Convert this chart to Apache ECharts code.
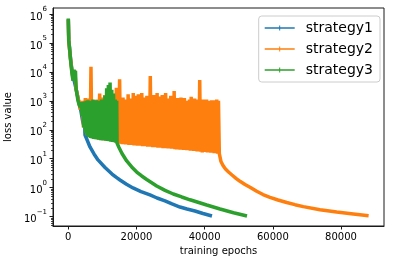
<!DOCTYPE html>
<html><head><meta charset="utf-8">
<script src="https://cdn.jsdelivr.net/npm/echarts@6/dist/echarts.min.js"></script>
<style>html,body{margin:0;padding:0;background:#fff}#c{width:394px;height:264px}</style>
</head><body><div id="c"></div>
<script>
const seriesNames = ['strategy1', 'strategy2', 'strategy3'];
const seriesColors = ['#1f77b4', '#ff7f0e', '#2ca02c'];

// [training epoch, loss value]
const strategy1Data = [
  [0,650000],[150,130000],[400,60000],[800,20000],[1300,8000],[1900,4000],[2500,2000],[3100,900],
  [3700,450],[4200,200],[4500,150],[4700,700],[4900,66],[5400,48],[5630,41],[6360,25.5],[7540,14.6],
  [8710,9.1],[10770,5.0],[12820,2.97],[13990,2.31],[15160,1.85],[17070,1.31],[18980,0.98],[21330,0.73],
  [23960,0.56],[26020,0.44],[28360,0.35],[30420,0.274],[32760,0.215],[34820,0.184],
  [37160,0.157],[39510,0.128],[42150,0.105]
];

const strategy2Data = [
  [0,650000],[120,120000],[500,40000],[1000,12000],[1500,5000],[1900,11000],[2300,2500],[2700,1500],[3100,900],
  [3500,500],[4000,1000],[4500,120],[5000,1250],[5500,65],[6000,1200],[6400,55],[6650,15000],[6900,52],
  [7400,1000],[7900,48],[8400,1100],[8900,46],[9200,1800],[9500,45],[10000,1300],[10400,44],[10700,1600],
  [11000,43],[11500,1200],[12000,41],[12500,1300],[13000,39],[13500,1400],[13900,37],[14100,2800],
  [14300,34],[14550,1200],[14800,33],[15050,5600],[15300,33],[15550,1000],[15800,32],[16050,1300],
  [16300,32],[16550,900],[16800,31],[17050,1100],[17300,31],[17550,1700],[17800,30],[18050,1000],
  [18300,30],[18550,1200],[18800,30],[19050,1850],[19300,29],[19550,950],[19800,29],[20050,1500],
  [20300,28],[20550,1700],[20800,28],[21050,1100],[21300,28],[21550,1850],[21800,27],[22050,1000],
  [22300,27],[22550,1300],[22800,27],[23050,1500],[23300,26],[23550,1100],[23800,26],[24050,7200],
  [24300,26],[24550,1000],[24800,25],[25050,1600],[25300,25],[25550,1300],[25800,25],[26050,1850],
  [26300,24],[26550,1100],[26800,24],[27050,1400],[27300,24],[27550,1600],[27800,23],[28050,900],
  [28300,23],[28550,1850],[28800,23],[29050,1200],[29300,22.5],[29550,1000],[29800,22.5],[30050,1500],
  [30300,22],[30550,1300],[30800,22],[31050,2200],[31300,21.5],[31550,1100],[31800,21],[32050,1250],
  [32300,21],[32550,950],[32800,20.5],[33050,1300],[33300,20.5],[33550,1050],[33800,20],[34050,1250],
  [34300,20],[34550,900],[34800,19.5],[35050,1000],[35300,19.5],[35550,1100],[35800,19],[36050,1370],
  [36300,19],[36550,950],[36800,18.5],[37050,1200],[37300,18.5],[37550,1000],[37800,18],[38050,1100],
  [38300,18],[38550,5200],[38800,17.5],[39050,1000],[39300,16.5],[39550,1100],[39800,17],[40050,850],
  [40300,17],[40550,1100],[40800,16.5],[41050,950],[41300,16.5],[41550,1000],[41800,16],[42050,1050],
  [42300,16],[42550,900],[42800,15.5],[43050,1050],[43300,15.5],[43550,1100],[43800,15],[44050,1000],
  [44300,15],[44790,8.0],[45380,5.85],[46110,4.43],[47000,3.48],[48020,2.75],[49190,2.11],[50370,1.66],
  [51840,1.29],[53300,1.03],[55270,0.75],[57110,0.58],[59160,0.466],[61510,0.376],[64070,0.308],
  [66500,0.259],[68940,0.222],[73840,0.174],[78730,0.144],[83600,0.124],[88100,0.108]
];

const strategy3Data = [
  [0,700000],[120,120000],[350,70000],[600,30000],[850,16000],[1100,8000],[1400,5000],[1700,12000],
  [1900,7000],[2100,11000],[2300,2500],[2600,1500],[2850,1000],[3150,750],[3450,600],
  [3750,900],[4000,300],[4250,800],[4500,120],[4750,950],[5000,78],[5250,1000],[5500,63],
  [5750,1050],[6000,56],[6250,900],[6500,52],[6750,1000],[7000,50],[7250,1100],[7500,48],
  [7750,950],[8000,47],[8250,1050],[8500,46],[8750,1000],[9000,45],[9250,900],[9500,44],
  [9750,1100],[10000,43],[10250,1000],[10500,43],[10750,1500],[11000,42],[11250,2700],[11500,41],
  [11750,3500],[12000,40],[12250,4300],[12500,39],[12750,2400],[13000,38],[13250,1800],[13500,37],
  [13750,1100],[14000,36],[14200,1000],[14300,35],
  [14870,24.5],[15750,15.2],[17130,8.36],[18600,5.19],[20070,3.48],[21530,2.54],[23000,1.92],
  [25930,1.15],[28370,0.81],[30800,0.605],[33270,0.478],[35700,0.382],[40600,0.252],
  [44500,0.184],[48460,0.136],[52420,0.105]
];

const xTicks = [0, 20000, 40000, 60000, 80000];
const yTicks = [0.1, 1, 10, 100, 1000, 10000, 100000, 1000000];
const yMinorTicks = [];
for (let e = -2; e <= 6; e++) for (let m = 2; m <= 9; m++) yMinorTicks.push(m * Math.pow(10, e));

const X_MIN = -4490, X_MAX = 92610;
const Y_MIN = 0.0475, Y_MAX = 1.61e6;
const FONT = 'DejaVu Sans';
const AX = '#1a1a1a';

const chart = echarts.init(document.getElementById('c'), null, {renderer: 'canvas'});
const allData = [strategy1Data, strategy2Data, strategy3Data];
const legendIcon = 'path://M0,1.75h30v1.5h-30z M14.5,0h1v5h-1z';

chart.setOption({
  animation: false,
  textStyle: {fontFamily: FONT},
  grid: {left: 53, top: 8, right: 10, bottom: 38, containLabel: false, outerBoundsMode: 'none',
         show: true, borderColor: AX, borderWidth: 1, backgroundColor: 'transparent'},
  legend: {
    data: seriesNames.map(n => ({name: n, icon: legendIcon})),
    orient: 'vertical', right: 14, top: 16,
    itemWidth: 30, itemHeight: 5, itemGap: 7,
    padding: [5, 7, 5, 6],
    backgroundColor: 'rgba(255,255,255,0.8)', borderColor: '#cccccc', borderWidth: 1, borderRadius: 3,
    itemStyle: {borderWidth: 0},
    textStyle: {fontSize: 14, color: '#000', fontFamily: FONT, padding: [0, 0, 0, 6]},
    selectedMode: false
  },
  xAxis: {
    type: 'value', min: X_MIN, max: X_MAX,
    name: 'training epochs', nameLocation: 'middle', nameGap: 19,
    nameTextStyle: {fontSize: 10, color: '#000', fontFamily: FONT},
    axisLine: {show: true, onZero: false, lineStyle: {color: AX, width: 1}},
    axisTick: {show: true, length: 3.5, customValues: xTicks, lineStyle: {color: AX, width: 1}},
    axisLabel: {customValues: xTicks, fontSize: 10, color: '#000', margin: 6, fontFamily: FONT,
                formatter: v => String(Math.round(v))},
    splitLine: {show: false}
  },
  yAxis: [{
    type: 'log', logBase: 10, min: Y_MIN, max: Y_MAX, position: 'left',
    name: 'loss value', nameLocation: 'middle', nameGap: 37,
    nameTextStyle: {fontSize: 10, color: '#000', fontFamily: FONT},
    axisLine: {show: true, onZero: false, lineStyle: {color: AX, width: 1}},
    axisTick: {show: true, length: 3.5, customValues: yTicks, lineStyle: {color: AX, width: 1}},
    axisLabel: {
      customValues: yTicks, margin: 6, color: '#000', fontFamily: FONT,
      formatter: v => {
        const e = Math.round(Math.log10(v));
        return '{base|10}{sup|' + (e < 0 ? '\u2212' + (-e) : e) + '}';
      },
      rich: {
        base: {fontSize: 10, lineHeight: 16, verticalAlign: 'bottom', fontFamily: FONT, color: '#000'},
        sup: {fontSize: 7, lineHeight: 8, verticalAlign: 'top', fontFamily: FONT, color: '#000'}
      }
    },
    splitLine: {show: false}
  }, {
    type: 'log', logBase: 10, min: Y_MIN, max: Y_MAX, position: 'left',
    axisLine: {show: false, onZero: false},
    axisTick: {show: true, length: 2, customValues: yMinorTicks, lineStyle: {color: AX, width: 0.8}},
    axisLabel: {show: false},
    splitLine: {show: false}
  }],
  series: seriesNames.map((n, i) => ({
    name: n, type: 'line', data: allData[i], yAxisIndex: 0,
    showSymbol: false, symbol: 'none', silent: true,
    emphasis: {disabled: true},
    itemStyle: {color: seriesColors[i]},
    lineStyle: {color: seriesColors[i], width: 3.5, join: 'bevel'}
  }))
});
</script></body></html>
